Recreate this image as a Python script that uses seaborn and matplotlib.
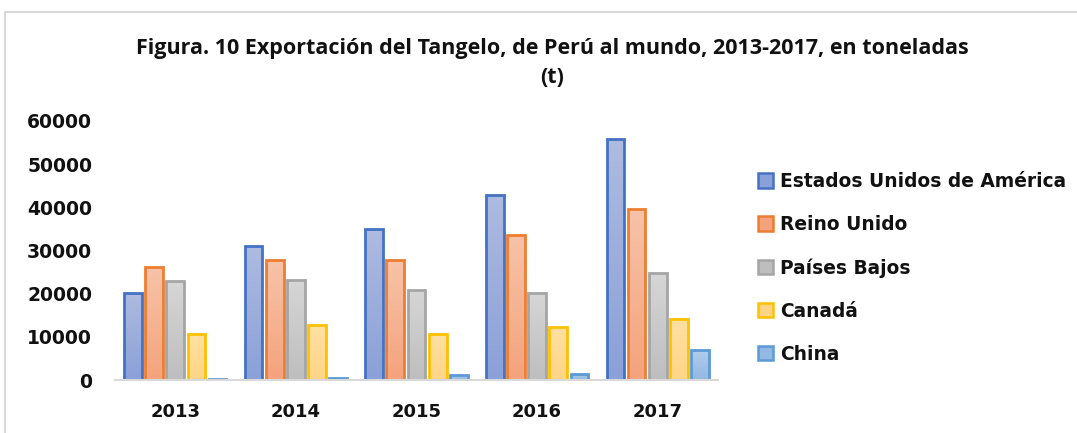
import numpy as np
import pandas as pd
import matplotlib
matplotlib.use("Agg")
import matplotlib.pyplot as plt
from matplotlib.patches import Patch, Rectangle
from matplotlib.colors import to_rgb
from matplotlib import font_manager
import seaborn as sns

years = ["2013", "2014", "2015", "2016", "2017"]
countries = ["Estados Unidos de América", "Reino Unido", "Países Bajos", "Canadá", "China"]
usa = [20200, 31000, 34900, 42900, 55800]
reino_unido = [26100, 27700, 27700, 33700, 39700]
paises_bajos = [22900, 23100, 20900, 20200, 24700]
canada = [10700, 12800, 10700, 12300, 14200]
china = [200, 500, 1200, 1400, 7000]
y_ticks = [0, 10000, 20000, 30000, 40000, 50000, 60000]
title = "Figura. 10 Exportación del Tangelo, de Perú al mundo, 2013-2017, en toneladas\n(t)"

edge_colors = ["#4472C4", "#ED7D31", "#A5A5A5", "#FFC000", "#5B9BD5"]
top_colors = ["#AEBBE0", "#F7C3A9", "#D6D6D6", "#FFE0A3", "#B2CDEB"]
bottom_colors = ["#8AA0D8", "#F4A37C", "#BEBEBE", "#FFD585", "#93B8E3"]

df = pd.DataFrame({
    "Año": years * 5,
    "País": [c for c in countries for _ in years],
    "Toneladas": usa + reino_unido + paises_bajos + canada + china,
})

sns.set_theme(style="white")
plt.rcParams["font.family"] = ["DejaVu Sans"]

try:
    font_manager.findfont(font_manager.FontProperties(family="Open Sans", weight="bold"),
                          fallback_to_default=False)
    title_family = ["Open Sans", "DejaVu Sans"]
except Exception:
    title_family = ["DejaVu Sans"]

fig = plt.figure(figsize=(10.77, 4.33), dpi=100)
ax = fig.add_axes([115 / 1077, 1 - 380 / 433, (718 - 115) / 1077, (380 - 121) / 433])

fill_palette = {c: m for c, m in zip(countries, bottom_colors)}
sns.barplot(data=df, x="Año", y="Toneladas", hue="País", order=years,
            hue_order=countries, palette=fill_palette, width=0.877, gap=0.16,
            ax=ax, legend=False, saturation=1)

for i, cont in enumerate(ax.containers):
    for patch in cont.patches:
        patch.set_edgecolor(edge_colors[i])
        patch.set_linewidth(2.0)
        x0, y0 = patch.get_x(), patch.get_y()
        w, h = patch.get_width(), patch.get_height()
        top = np.array(to_rgb(top_colors[i]))
        bot = np.array(to_rgb(bottom_colors[i]))
        grad = np.linspace(0, 1, 64)[:, None]
        img = (top[None, :] * (1 - grad) + bot[None, :] * grad)[:, None, :]
        im = ax.imshow(img, extent=[x0, x0 + w, y0, y0 + h], aspect="auto",
                       origin="upper", zorder=patch.get_zorder() - 0.05,
                       interpolation="bilinear")
        im.set_clip_path(patch)
        patch.set_facecolor("none")
        patch.set_zorder(im.get_zorder() + 0.1)

ax.set_xlim(-0.5, 4.5)
ax.set_ylim(0, 60000)
ax.set_yticks(y_ticks)
ax.set_yticklabels([str(t) for t in y_ticks])
ax.set_xlabel("")
ax.set_ylabel("")
ax.tick_params(axis="both", length=0, colors="#111111")
ax.tick_params(axis="y", pad=16.5, labelsize=13.5)
ax.tick_params(axis="x", pad=16.5, labelsize=13)
for lab in ax.get_xticklabels() + ax.get_yticklabels():
    lab.set_fontweight("bold")
for s in ["left", "right", "top"]:
    ax.spines[s].set_visible(False)
ax.spines["bottom"].set_color("#D9D9D9")
ax.spines["bottom"].set_linewidth(1.5)

handles = [Patch(facecolor=bottom_colors[i], edgecolor=edge_colors[i], linewidth=1.8)
           for i in range(5)]
leg = fig.legend(handles, countries, loc="upper left",
                 bbox_to_anchor=(758 / 1077, 1 - 172 / 433), frameon=False,
                 prop={"family": "DejaVu Sans", "weight": "bold", "size": 13.4},
                 handlelength=0.8, handleheight=0.8, handletextpad=0.4,
                 labelspacing=1.29, borderaxespad=0, borderpad=0)
for t in leg.get_texts():
    t.set_color("#111111")

fig.text(552 / 1077, 1 - 63 / 433, title, ha="center", va="center",
         family=title_family, fontweight="bold", fontsize=15.5,
         linespacing=1.45, color="#111111")

fig.patches.append(Rectangle((5 / 1077, -0.05), 1.2, 1 - 12 / 433 + 0.05,
                             transform=fig.transFigure, fill=False,
                             edgecolor="#D9D9D9", linewidth=1.5))

fig.savefig("out.png", dpi=100)
